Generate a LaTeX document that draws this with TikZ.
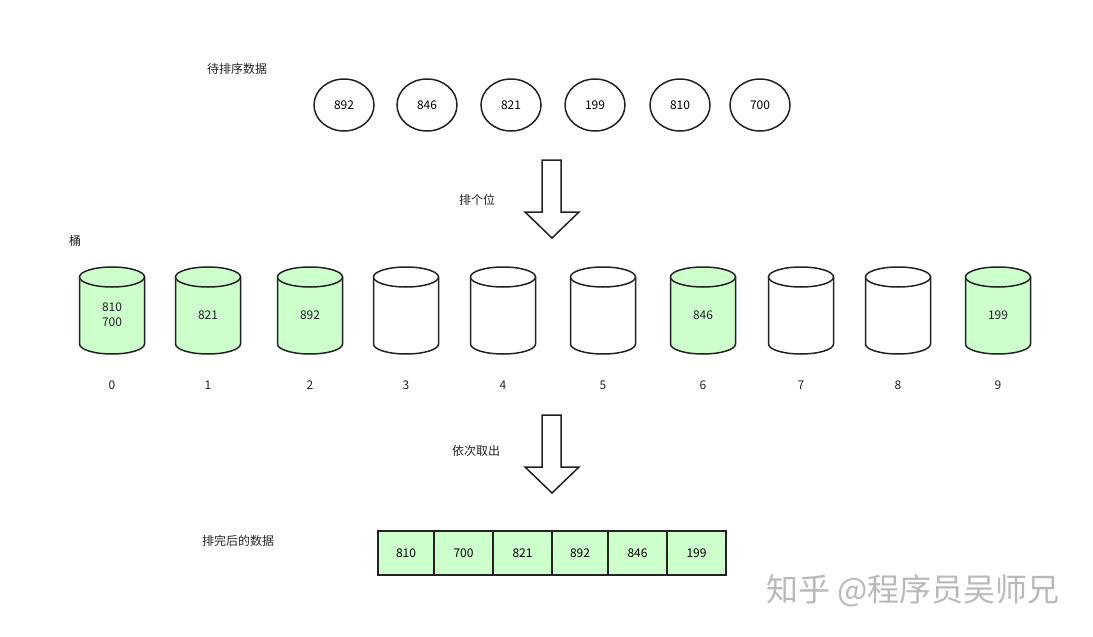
\documentclass[tikz,border=0pt]{standalone}
\usepackage{fontspec}
\usetikzlibrary{shapes.geometric}
\setmainfont{Noto Sans CJK SC}
\definecolor{lg}{HTML}{CCFFCC}
\definecolor{ln}{HTML}{222222}
\begin{document}
\begin{tikzpicture}[x=1pt,y=-1pt,line width=1.5pt,
  txt/.style={font=\fontsize{12}{14}\selectfont,text=ln},
  num/.style={ellipse,draw=ln,minimum width=60pt,minimum height=52pt,inner sep=0pt,font=\fontsize{12}{14}\selectfont},
  cell/.style={draw=ln,fill=lg,minimum height=44pt,inner sep=0pt,font=\fontsize{12}{14}\selectfont}]
\useasboundingbox (0,0) rectangle (1093,637);
\node[txt] (t1) at (237,69) {待排序数据};
\foreach \x/\v in {344/892,427/846,511/821,595/199,680/810,760/700}
  \node[num] (n\v) at (\x,105) {\v};
\node[txt] (t2) at (477,200) {排个位};
\draw[ln,fill=white] (542,160) -- (561,160) -- (561,212) -- (579,212) -- (552,238) -- (525,212) -- (542,212) -- cycle;
\node[txt] (t3) at (75,241) {桶};
\foreach \x/\c/\i in {112/lg/0,208/lg/1,310/lg/2,406/white/3,503/white/4,603/white/5,703/lg/6,801/white/7,898/white/8,998/lg/9}{
  \draw[ln,fill=\c] (\x-32.5,277) -- (\x-32.5,344) arc[start angle=180,end angle=0,x radius=32.5,y radius=10] -- (\x+32.5,277);
  \draw[ln,fill=\c] (\x,277) ellipse[x radius=32.5,y radius=10];
  \node[txt] (b\i) at (\x,385) {\i};
}
\node[txt,align=center] (c0) at (112,315) {810\\[1pt]700};
\node[txt] (c1) at (208,315) {821};
\node[txt] (c2) at (310,315) {892};
\node[txt] (c6) at (703,315) {846};
\node[txt] (c9) at (998,315) {199};
\node[txt] (t4) at (476,451) {依次取出};
\draw[ln,fill=white] (542,415) -- (561,415) -- (561,467) -- (579,467) -- (552,493) -- (525,467) -- (542,467) -- cycle;
\node[txt] (t5) at (238,541) {排完后的数据};
\foreach \a/\b/\v [count=\k] in {378/434/810,434/493/700,493/552/821,552/608/892,608/667/846,667/726/199}
  \node[cell,minimum width={(\b-\a)*1pt}] (r\k) at ({(\a+\b)/2},553) {\v};
\node[font=\fontsize{32}{36}\selectfont,text=gray!55] (wm) at (913,591) {知乎 @程序员吴师兄};
\end{tikzpicture}
\end{document}
